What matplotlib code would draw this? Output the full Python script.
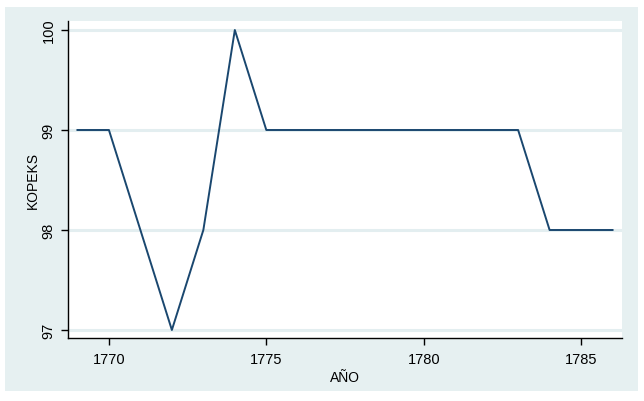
#!/usr/bin/env python3

import matplotlib
matplotlib.use("Agg")
import matplotlib.pyplot as plt
from matplotlib.patches import Rectangle

years = [1769, 1770, 1771, 1772, 1773, 1774, 1775, 1776, 1777, 1778,
         1779, 1780, 1781, 1782, 1783, 1784, 1785, 1786]
kopeks = [99, 99, 98, 97, 98, 100, 99, 99, 99, 99,
          99, 99, 99, 99, 99, 98, 98, 98]
x_ticks = [1770, 1775, 1780, 1785]
y_ticks = [97, 98, 99, 100]

BG = "#E6F0F1"
LINE = "#1A476F"

plt.rcParams["font.family"] = ["Liberation Sans", "DejaVu Sans"]

W, H = 644, 402
fig = plt.figure(figsize=(W / 100, H / 100), dpi=100, facecolor="white")

# stata-ish outer band, kept behind the axes
fig.patches.append(Rectangle((5 / W, 1 - 392 / H), (638 - 5) / W, (392 - 8) / H,
                             transform=fig.transFigure, facecolor=BG,
                             edgecolor="none", zorder=-10))

left, right, top, bottom = 68, 622, 22, 339
ax = fig.add_axes([left / W, 1 - bottom / H, (right - left) / W, (bottom - top) / H])
ax.set_zorder(5)
ax.set_facecolor("white")

ax.plot(years, kopeks, color=LINE, linewidth=1.4, zorder=3)

ax.set_xlim(1768.7, 1786.3)
ax.set_ylim(96.92, 100.09)
ax.set_xticks(x_ticks)
ax.set_yticks(y_ticks)
ax.set_yticklabels([str(v) for v in y_ticks], rotation=90, va="center")

ax.grid(axis="y", color="#E3EEF0", linewidth=2.2, zorder=1)
ax.grid(axis="x", visible=False)

for s in ["top", "right"]:
    ax.spines[s].set_visible(False)
for s in ["left", "bottom"]:
    ax.spines[s].set_color("black")
    ax.spines[s].set_linewidth(1.0)

ax.tick_params(direction="out", length=5, width=1, labelsize=10.5, colors="black")
ax.tick_params(axis="x", pad=5)
ax.tick_params(axis="y", pad=4)

ax.set_xlabel("AÑO", fontsize=10, labelpad=3)
ax.set_ylabel("KOPEKS", fontsize=10, labelpad=1)

fig.savefig("out.png", dpi=100, facecolor="white")
